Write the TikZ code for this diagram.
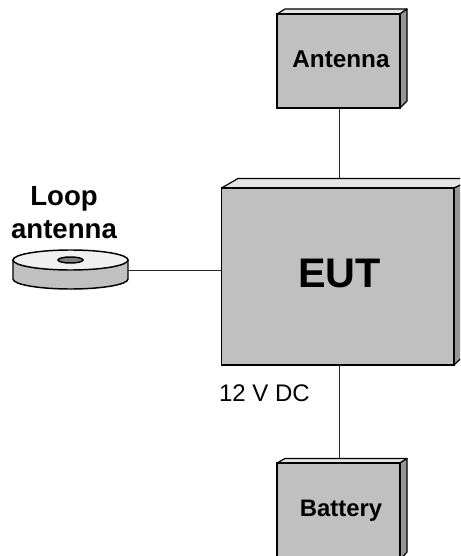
\documentclass[tikz,border=0pt]{standalone}
\usepackage{fontspec}
\usetikzlibrary{shapes.geometric}
\setmainfont{Liberation Sans}
\definecolor{frontc}{HTML}{C0C0C0}
\definecolor{topc}{HTML}{E4E4E4}
\definecolor{sidec}{HTML}{969696}
\definecolor{discc}{HTML}{F0F0F0}
\definecolor{holec}{HTML}{808080}
\tikzset{
  px/.style={x=0.75pt,y=-0.75pt},
  frontbox/.style={draw=black,fill=frontc,line width=0.9pt,inner sep=0pt,outer sep=0pt},
  topface/.style={draw=black,fill=topc,line width=0.9pt,line join=round},
  sideface/.style={draw=black,fill=sidec,line width=0.9pt,line join=round},
  wire/.style={draw=black!85,line width=0.6pt},
  boldlabel/.style={font=\bfseries,inner sep=0pt,align=center}
}
\begin{document}
\begin{tikzpicture}[px]
\useasboundingbox (0,0) rectangle (460,556);
\clip (0,0) rectangle (460,556);
\fill[white] (0,0) rectangle (460,556);
% Antenna box
\path[topface] (277,14) -- (285,9) -- (407,9) -- (400,14) -- cycle;
\path[sideface] (400,14) -- (407,9) -- (407,101) -- (400,108) -- cycle;
\node[frontbox,minimum width=92.25pt,minimum height=70.5pt] (ant) at (338.5,61) {};
\node[boldlabel,font=\bfseries\fontsize{18.2pt}{20pt}\selectfont] (antl) at (341,59) {Antenna};
% EUT box
\path[topface] (221.5,188) -- (238,178.5) -- (475,178.5) -- (454,188) -- cycle;
\path[sideface] (454,188) -- (475,178.5) -- (475,345) -- (454,365) -- cycle;
\node[frontbox,minimum width=174.4pt,minimum height=132.75pt] (eut) at (337.75,276.5) {};
\node[boldlabel,font=\bfseries\fontsize{31pt}{33pt}\selectfont] (eutl) at (339.5,273) {EUT};
% Battery box
\path[topface] (277,463) -- (285,458.5) -- (407,458.5) -- (400,463) -- cycle;
\path[sideface] (400,463) -- (407,458.5) -- (407,552) -- (400,560) -- cycle;
\node[frontbox,minimum width=92.25pt,minimum height=78pt] (bat) at (338.5,515) {};
\node[boldlabel,font=\bfseries\fontsize{17.9pt}{20pt}\selectfont] (batl) at (341,510.5) {Battery};
% Loop antenna disc
\path[draw=black,fill=frontc,line width=1.1pt] (13,260) -- (13,279)
  .. controls (13,284.5) and (38.7,289) .. (70.5,289)
  .. controls (102.3,289) and (128,284.5) .. (128,279) -- (128,260) -- cycle;
\node[draw=black,fill=discc,line width=1.1pt,ellipse,inner sep=0pt,outer sep=0pt,minimum width=86.25pt,minimum height=15pt] (disc) at (70.5,260) {};
\node[draw=black,fill=holec,line width=1.1pt,ellipse,inner sep=0pt,minimum width=18.75pt,minimum height=4.5pt] (hole) at (70.5,260) {};
\coordinate (discr) at (128,270.5);
\node[boldlabel,font=\bfseries\fontsize{20.7pt}{24.5pt}\selectfont] (loopl) at (64,212.5) {Loop\\antenna};
% Label
\node[inner sep=0pt,font=\fontsize{18pt}{20pt}\selectfont] (dc) at (264.5,393) {12 V DC};
% Connectors
\coordinate (euttop) at (339,178.5);
\coordinate (batop) at (339,458.5);
\coordinate (eutleft) at (eut.west |- discr);
\draw[wire] (ant.south -| euttop) -- (euttop);
\draw[wire] (eut.south -| batop) -- (batop);
\draw[wire] (discr) -- (eutleft);
\end{tikzpicture}
\end{document}
